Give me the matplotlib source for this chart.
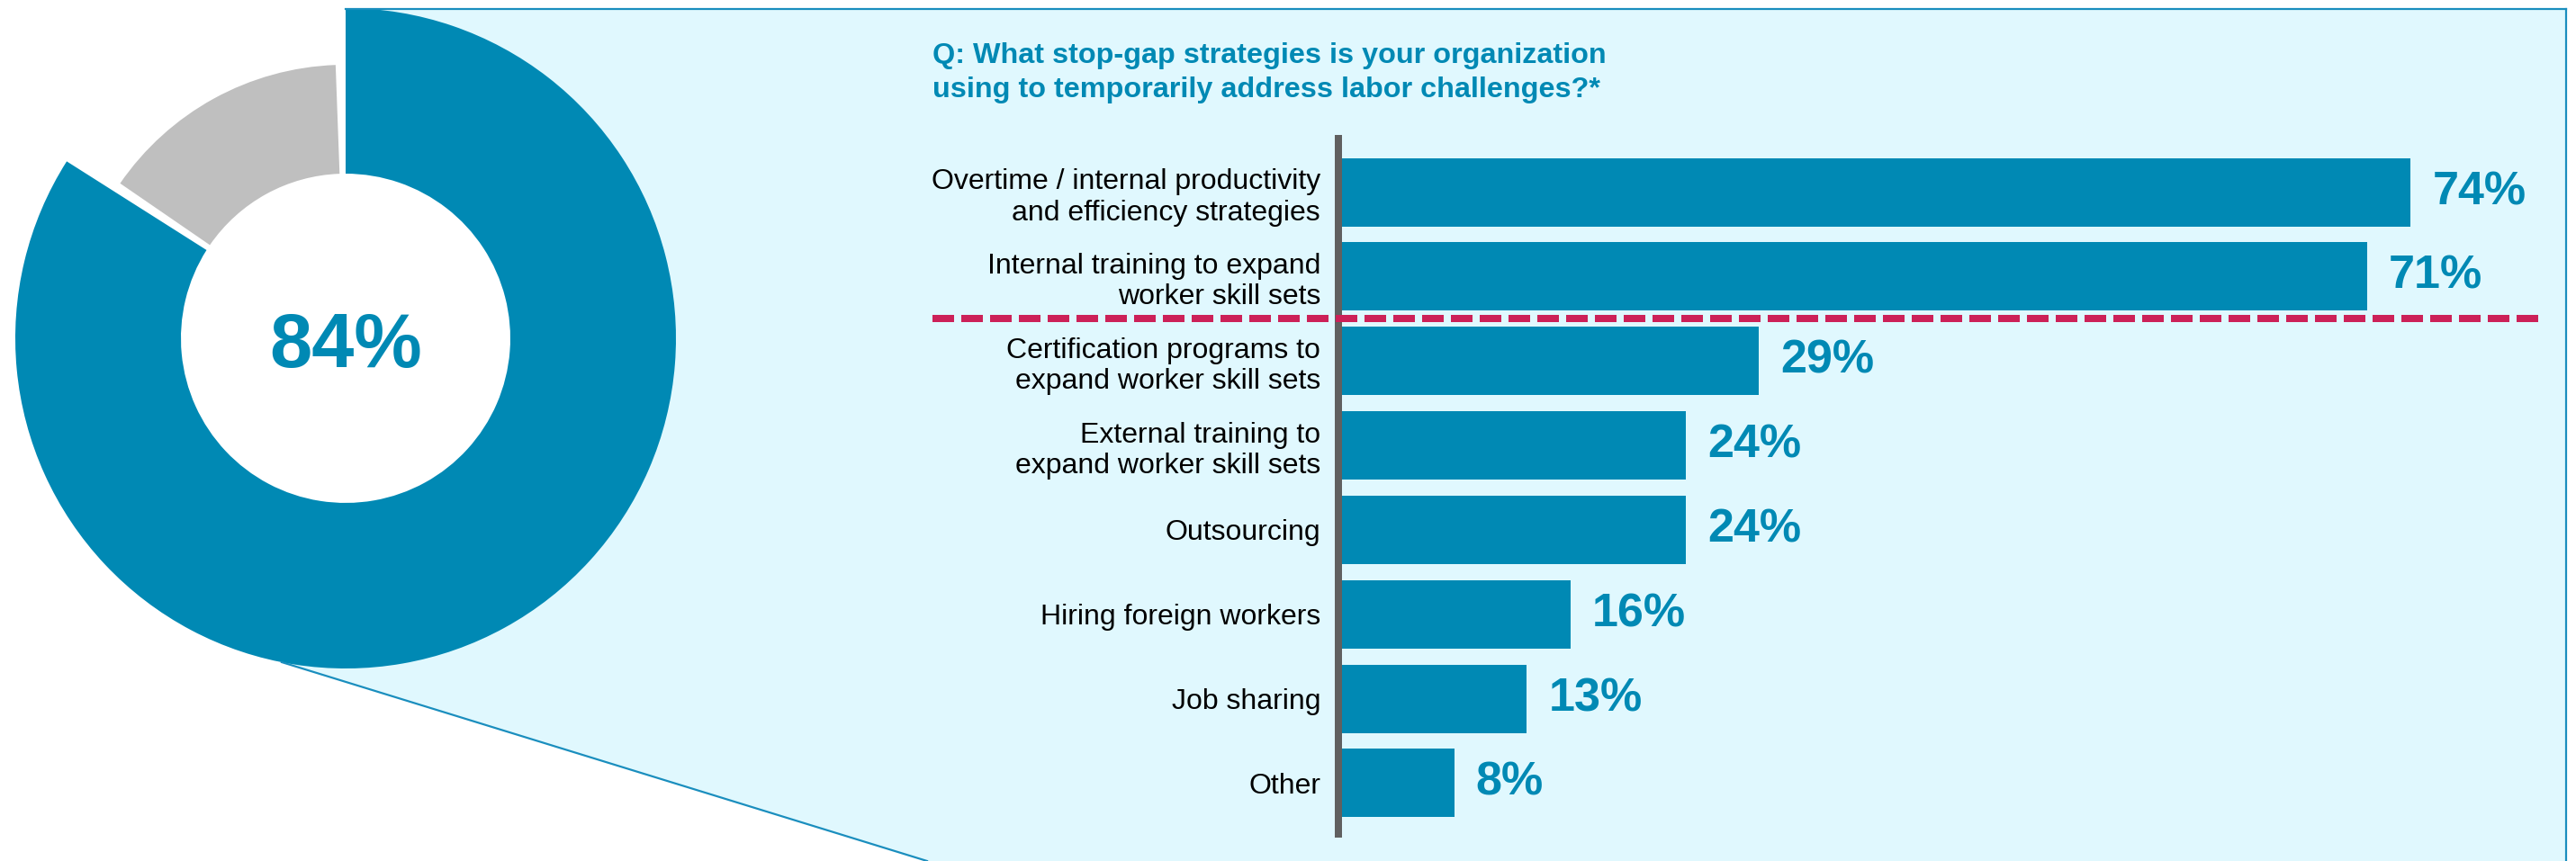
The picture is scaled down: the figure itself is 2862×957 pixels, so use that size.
import numpy as np
import matplotlib
matplotlib.use("Agg")
import matplotlib.pyplot as plt
from matplotlib.patches import Polygon, Circle
from matplotlib.transforms import blended_transform_factory

# ---------------- data ----------------
donut_values = [84, 16]
donut_label = "84%"
title_lines = ["Q: What stop-gap strategies is your organization",
               "using to temporarily address labor challenges?*"]
categories = ["Overtime / internal productivity\nand efficiency strategies",
              "Internal training to expand\nworker skill sets",
              "Certification programs to\nexpand worker skill sets",
              "External training to\nexpand worker skill sets",
              "Outsourcing",
              "Hiring foreign workers",
              "Job sharing",
              "Other"]
values = [74, 71, 29, 24, 24, 16, 13, 8]
value_labels = ["74%", "71%", "29%", "24%", "24%", "16%", "13%", "8%"]

# ---------------- style ----------------
plt.rcParams['font.family'] = ['Liberation Sans', 'DejaVu Sans']
W, H, DPI = 2862, 957, 100
PT = 72 / DPI
BLUE = "#0089B4"
TEAL = "#0089B4"
GRAY = "#BFBFBF"
PANEL = "#E0F8FE"
EDGE = "#1A8EBE"
RED = "#CC2158"
SPINE = "#606060"

fig = plt.figure(figsize=(W / DPI, H / DPI), dpi=DPI)
fig.patch.set_facecolor("white")

def Y(y):
    return H - y

# background axes in pixel coordinates
ax_bg = fig.add_axes([0, 0, 1, 1])
cx, cy, R, r_in = 384, 376, 367, 183

panel = Polygon([(384, Y(10)), (2851, Y(10)), (2851, Y(957)), (1030, Y(957)),
                 (313, Y(736)), (cx, Y(cy))], closed=True,
                facecolor=PANEL, edgecolor="none", zorder=1)
ax_bg.add_patch(panel)
ax_bg.add_patch(Circle((cx, Y(cy)), r_in, facecolor="white", edgecolor="none", zorder=2))

wedges, _ = ax_bg.pie(donut_values, colors=[BLUE, GRAY], startangle=90,
                      counterclock=False, radius=R, center=(cx, Y(cy)),
                      wedgeprops=dict(width=R - r_in, linewidth=0))
for w in wedges:
    w.set_zorder(3)
g = wedges[1]
gap = 2.1
g.set_theta1(g.theta1 + gap)
g.set_theta2(g.theta2 - gap)
g.set_radius(304)
g.set_width(304 - r_in)

ax_bg.plot([384, 2851], [Y(10), Y(10)], color=EDGE, lw=2.2 * PT, zorder=4)
ax_bg.plot([2851, 2851], [Y(10), Y(957)], color=EDGE, lw=2.2 * PT, zorder=4)
ax_bg.plot([313, 1030], [Y(736), Y(957)], color=EDGE, lw=2.2 * PT, zorder=4)

ax_bg.text(cx, Y(408), donut_label, ha="center", va="baseline", fontsize=61,
           fontweight="bold", color=TEAL, zorder=5)

ax_bg.set_xlim(0, W)
ax_bg.set_ylim(0, H)
ax_bg.set_aspect("auto")
ax_bg.axis("off")

# title
fig.text(1036 / W, Y(70) / H, title_lines[0], ha="left", va="baseline",
         fontsize=23.3, fontweight="bold", color=TEAL)
fig.text(1036 / W, Y(108) / H, title_lines[1], ha="left", va="baseline",
         fontsize=23.3, fontweight="bold", color=TEAL)

# bar chart axes
ax = fig.add_axes([1487 / W, (H - 927) / H, 1364 / W, 773 / H])
ax.set_facecolor("none")
ypos = np.arange(len(categories))
bars = ax.barh(ypos, values, height=0.81, color=BLUE, zorder=2)
ax.set_ylim(7 + 56.5 / 93.8, -59.5 / 93.8)
ax.set_xlim(0, 1364 / 16.1)
ax.set_xticks([])
ax.set_yticks(ypos, categories, fontsize=23, color="black")
ax.tick_params(axis="y", length=0, pad=20 * PT)
for s in ["top", "right", "bottom"]:
    ax.spines[s].set_visible(False)
ax.spines["left"].set_color(SPINE)
ax.spines["left"].set_linewidth(8 * PT)
ax.spines["left"].set_zorder(3)
ax.bar_label(bars, labels=value_labels, padding=24 * PT, fontsize=37.5,
             fontweight="bold", color=TEAL)

trans = blended_transform_factory(ax.transAxes, ax.transData)
ax.plot([(1036 - 1487) / 1364, (2823 - 1487) / 1364], [1.5, 1.5], transform=trans,
        color=RED, lw=8 * PT, dashes=(3, 1), dash_capstyle="butt",
        clip_on=False, zorder=4)

fig.savefig("out.png", dpi=DPI)
